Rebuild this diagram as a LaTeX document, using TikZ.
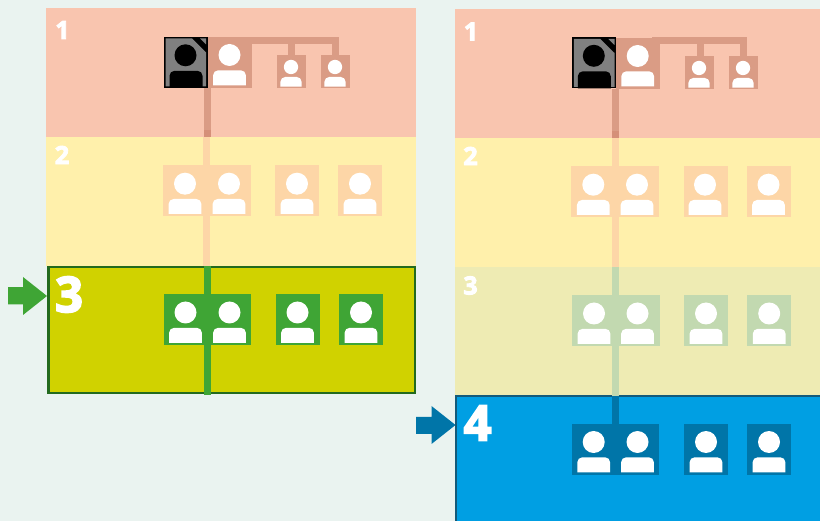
\documentclass[tikz,border=0pt]{standalone}
\usepackage{fontspec}
\setmainfont{Open Sans}[BoldFeatures={FakeBold=3.5}]
\definecolor{bgc}{HTML}{EAF3F0}
\definecolor{redband}{HTML}{F9C5AF}
\definecolor{redbox}{HTML}{DA9C85}
\definecolor{redjoin}{HTML}{D59079}
\definecolor{yelband}{HTML}{FFF0AB}
\definecolor{yelbox}{HTML}{FDD6A7}
\definecolor{olvband}{HTML}{EEEBB3}
\definecolor{olvbox}{HTML}{C2D9B0}
\definecolor{acidband}{HTML}{D0D200}
\definecolor{grnbox}{HTML}{3FA535}
\definecolor{grnedge}{HTML}{236A1E}
\definecolor{bluband}{HTML}{009FE3}
\definecolor{blubox}{HTML}{0075A8}
\definecolor{bluedge}{HTML}{135A7A}
\tikzset{
  panel/.style={rectangle,inner sep=0pt,outer sep=0pt,anchor=north west},
  lead/.style={line width=7pt},
  numtxt/.style={text=white,inner sep=0pt,font=\bfseries\fontsize{25}{25}\selectfont},
  numbig/.style={text=white,inner sep=0pt,font=\bfseries\fontsize{49}{49}\selectfont},
}
% \rct{name}{x}{y}{w}{h}{options}
\newcommand{\rct}[6]{\node[panel,minimum width=#4pt,minimum height=#5pt,#6] (#1) at (#2,#3) {};}
% \who{cx}{head y}{scale}{colour}
\newcommand{\who}[4]{%
  \begin{scope}[shift={(#1,#2)},scale=#3]
    \fill[#4] (0,0) circle (11);
    \fill[#4] (-16.4,30.3) [rounded corners=5pt] -- (-16.4,15.3) -- (16.4,15.3) [sharp corners] -- (16.4,30.3) -- cycle;
  \end{scope}}
% \boss{x}{y}{name}: grey portrait with x,y the top-left of the black frame
\newcommand{\boss}[3]{%
  \node[panel,fill=black,minimum width=44pt,minimum height=51pt] (#3) at (#1,#2) {};
  \begin{scope}[shift={(#1,#2)}]
    \fill[black!50] (1.5,1.5) -- (28,1.5) -- (42.2,15.5) -- (42.2,49.5) -- (1.5,49.5) -- cycle;
    \fill[black!50] (36,1.5) -- (42.2,1.5) -- (42.2,7.5) -- cycle;
    \fill[black] (21.5,18.3) circle (11);
    \fill[black] (5.5,51) [rounded corners=5pt] -- (5.5,33.8) -- (38.5,33.8) [sharp corners] -- (38.5,51) -- cycle;
  \end{scope}}
\begin{document}
\begin{tikzpicture}[x=1pt,y=-1pt]
\useasboundingbox (0,0) rectangle (820,521);
\fill[bgc] (0,0) rectangle (820,521);

% ---------- left column ----------
\rct{La}{46}{8}{370}{129}{fill=redband}
\rct{Lb}{46}{137}{370}{129}{fill=yelband}
\rct{Lc}{48.3}{267}{366.4}{126}{fill=acidband,draw=grnedge,line width=2.4pt}
\coordinate (Lt1) at (207.5,88);
\coordinate (Lt2) at (207.5,137);
\coordinate (Lt3) at (206.5,266);
\coordinate (Lt4) at (207.5,266);
\coordinate (Lt5) at (207.5,395);
\draw[lead,redbox] (Lt1) -- (Lt2);
\draw[lead,redjoin] (207.5,130) -- (Lt2);
\draw[lead,yelbox] (Lt2 -| Lt3) -- (Lt3);
\draw[lead,grnbox] (Lt4) -- (Lt5);
% level 1
\rct{Lp}{208}{37}{44}{51}{fill=redbox}
\rct{Ls1}{277}{55}{29}{33}{fill=redbox}
\rct{Ls2}{321}{55}{29}{33}{fill=redbox}
\coordinate (Lbar) at (252,40.5);
\draw[lead,redbox] (Lp.north east |- Lbar) -- (335.5,40.5) -- (335.5,55);
\draw[lead,redbox] (291.5,40.5) -- (291.5,55);
\boss{164}{37}{Lg}
\who{229.5}{55}{1}{white}
\who{291}{67}{0.65}{white}
\who{335}{67}{0.65}{white}
% level 2
\rct{Lb1}{163}{165}{88}{51}{fill=yelbox}
\rct{Lb2}{275}{165}{44}{51}{fill=yelbox}
\rct{Lb3}{338}{165}{44}{51}{fill=yelbox}
\who{185}{183.7}{1}{white}
\who{229}{183.7}{1}{white}
\who{297}{183.7}{1}{white}
\who{360}{183.7}{1}{white}
% level 3
\rct{Lc1}{164}{294}{87}{51}{fill=grnbox}
\rct{Lc2}{276}{294}{44}{51}{fill=grnbox}
\rct{Lc3}{339}{294}{44}{51}{fill=grnbox}
\who{185.5}{312.5}{1}{white}
\who{229.5}{312.5}{1}{white}
\who{297.5}{312.5}{1}{white}
\who{361}{312.5}{1}{white}
\node[numtxt] (Ln1) at (62.5,30) {1};
\node[numtxt] (Ln2) at (62,155) {2};
\node[numbig] (Ln3) at (69,294.5) {3};
\fill[grnbox] (8,287.2) -- (23,287.2) -- (23,277) -- (47,296) -- (23,315) -- (23,304.5) -- (8,304.5) -- cycle;

% ---------- right column ----------
\rct{Ra}{455}{9}{365}{129}{fill=redband}
\rct{Rb}{455}{138}{365}{129}{fill=yelband}
\rct{Rc}{455}{267}{365}{129}{fill=olvband}
\rct{Rd}{456}{396.3}{366}{130}{fill=bluband,draw=bluedge,line width=2.4pt}
\coordinate (Rt1) at (615.5,89);
\coordinate (Rt2) at (615.5,138);
\coordinate (Rt3) at (615.5,267);
\coordinate (Rt4) at (615.5,396);
\coordinate (Rt5) at (615.5,424);
\draw[lead,redbox] (Rt1) -- (Rt2);
\draw[lead,redjoin] (615.5,131) -- (Rt2);
\draw[lead,yelbox] (Rt2) -- (Rt3);
\draw[lead,olvbox] (Rt3) -- (Rt4);
\draw[lead,blubox] (Rt4) -- (Rt5);
% level 1
\rct{Rp}{616}{38}{44}{51}{fill=redbox}
\rct{Rs1}{685}{56}{29}{33}{fill=redbox}
\rct{Rs2}{729}{56}{29}{33}{fill=redbox}
\draw[lead,redbox] (652,40.5) -- (743.8,40.5) -- (743.8,56);
\draw[lead,redbox] (700.8,40.5) -- (700.8,56);
\boss{572.3}{37.5}{Rg}
\who{637.7}{56}{1}{white}
\who{699}{68}{0.65}{white}
\who{743}{68}{0.65}{white}
% level 2
\rct{Rb1}{571}{166}{88}{51}{fill=yelbox}
\rct{Rb2}{684}{166}{44}{51}{fill=yelbox}
\rct{Rb3}{747}{166}{44}{51}{fill=yelbox}
\who{593.3}{184.7}{1}{white}
\who{637}{184.7}{1}{white}
\who{705}{184.7}{1}{white}
\who{768.5}{184.7}{1}{white}
% level 3
\rct{Rc1}{572}{295}{88}{51}{fill=olvbox}
\rct{Rc2}{684}{295}{44}{51}{fill=olvbox}
\rct{Rc3}{747}{295}{44}{51}{fill=olvbox}
\who{594}{313.5}{1}{white}
\who{637.5}{313.5}{1}{white}
\who{706}{313.5}{1}{white}
\who{769.2}{313.5}{1}{white}
% level 4
\rct{Rd1}{572}{424}{87}{51}{fill=blubox}
\rct{Rd2}{684}{424}{44}{51}{fill=blubox}
\rct{Rd3}{747}{424}{44}{51}{fill=blubox}
\who{593.7}{442}{1}{white}
\who{637.5}{442}{1}{white}
\who{706}{442}{1}{white}
\who{769}{442}{1}{white}
\node[numtxt] (Rn1) at (471,31.5) {1};
\node[numtxt] (Rn2) at (470.5,156) {2};
\node[numtxt] (Rn3) at (470.5,285.5) {3};
\node[numbig] (Rn4) at (477.5,423) {4};
\fill[blubox] (416,417) -- (431.5,417) -- (431.5,406) -- (455.5,425) -- (431.5,444) -- (431.5,434) -- (416,434) -- cycle;
\end{tikzpicture}
\end{document}
